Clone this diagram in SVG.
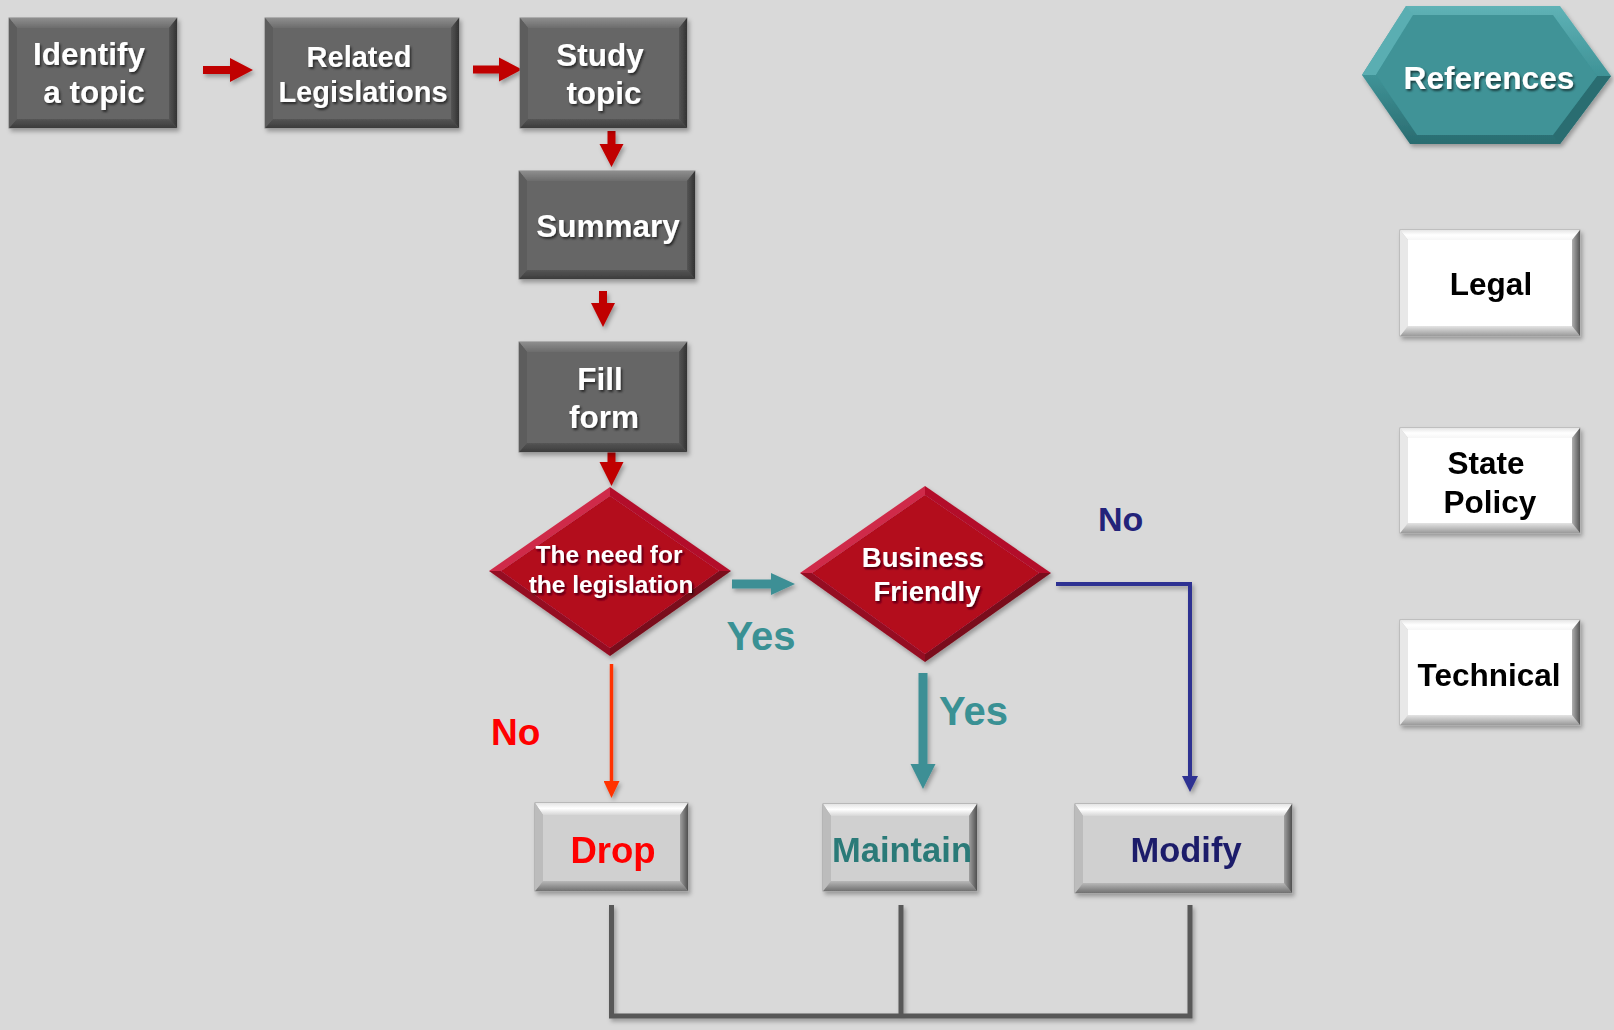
<svg xmlns="http://www.w3.org/2000/svg" width="1614" height="1030" viewBox="0 0 1614 1030">
<defs>
<style>
text{font-family:"Liberation Sans",Arial,sans-serif;font-weight:bold}
.wt{fill:#fff;text-anchor:middle;filter:url(#tsh)}
.bt{fill:#000;text-anchor:middle}
.dk-base{fill:#5a5a5a;stroke:#858585;stroke-width:1}
.dk-top{fill:url(#dkTop)}
.dk-left{fill:#5d5d5d}
.dk-right{fill:url(#dkRight)}
.dk-bot{fill:url(#dkBot)}
.dk-face{fill:#666666}
.lt-base{fill:#b0b0b0;stroke:#9a9a9a;stroke-width:1}
.lt-top{fill:url(#ltTop)}
.lt-left{fill:#bcbcbc}
.lt-right{fill:url(#ltRight)}
.lt-bot{fill:url(#ltBot)}
.lt-face{fill:#d0d0d0}
.wh-base{fill:#d0d0d0;stroke:#a8a8a8;stroke-width:1}
.wh-top{fill:url(#whTop)}
.wh-left{fill:#e8e8e8}
.wh-right{fill:url(#whRight)}
.wh-bot{fill:url(#whBot)}
.wh-face{fill:#ffffff}
.dm-ul{fill:#cf2a48}
.dm-ur{fill:#b3102b}
.dm-lr{fill:#7a0a1a}
.dm-ll{fill:#950b22}
.dm-face{fill:#b3071f}
.blk-red{fill:#c00000}
.blk-teal{fill:#3e8f95}
.lbl{font-size:40px}
</style>
<linearGradient id="dkTop" x1="0" y1="0" x2="0" y2="1"><stop offset="0" stop-color="#8e8e8e"/><stop offset="1" stop-color="#6c6c6c"/></linearGradient>
<linearGradient id="dkRight" x1="0" y1="0" x2="1" y2="0"><stop offset="0" stop-color="#555"/><stop offset="1" stop-color="#333"/></linearGradient>
<linearGradient id="dkBot" x1="0" y1="0" x2="0" y2="1"><stop offset="0" stop-color="#555"/><stop offset="1" stop-color="#3c3c3c"/></linearGradient>
<linearGradient id="ltTop" x1="0" y1="0" x2="0" y2="1"><stop offset="0" stop-color="#e4e4e4"/><stop offset="0.45" stop-color="#ffffff"/><stop offset="1" stop-color="#d6d6d6"/></linearGradient>
<linearGradient id="ltRight" x1="0" y1="0" x2="1" y2="0"><stop offset="0" stop-color="#a0a0a0"/><stop offset="1" stop-color="#505050"/></linearGradient>
<linearGradient id="ltBot" x1="0" y1="0" x2="0" y2="1"><stop offset="0" stop-color="#b8b8b8"/><stop offset="1" stop-color="#707070"/></linearGradient>
<linearGradient id="whTop" x1="0" y1="0" x2="0" y2="1"><stop offset="0" stop-color="#e6e6e6"/><stop offset="0.5" stop-color="#ffffff"/><stop offset="1" stop-color="#f6f6f6"/></linearGradient>
<linearGradient id="whRight" x1="0" y1="0" x2="1" y2="0"><stop offset="0" stop-color="#b0b0b0"/><stop offset="1" stop-color="#555"/></linearGradient>
<linearGradient id="whBot" x1="0" y1="0" x2="0" y2="1"><stop offset="0" stop-color="#e4e4e4"/><stop offset="1" stop-color="#9a9a9a"/></linearGradient>
<linearGradient id="hexOut" x1="0" y1="0" x2="0" y2="1"><stop offset="0" stop-color="#5fb2b6"/><stop offset="0.5" stop-color="#3f9397"/><stop offset="1" stop-color="#2a6c70"/></linearGradient>
<filter id="sh" x="-10%" y="-10%" width="125%" height="130%"><feDropShadow dx="2" dy="3" stdDeviation="2.2" flood-color="#000" flood-opacity="0.3"/></filter>
<filter id="tsh" x="-10%" y="-20%" width="125%" height="150%"><feDropShadow dx="1.5" dy="2" stdDeviation="1" flood-color="#000" flood-opacity="0.6"/></filter>
<marker id="mRed" viewBox="0 0 17 16" refX="0" refY="8" markerUnits="userSpaceOnUse" markerWidth="17" markerHeight="16" orient="auto"><path d="M0,0 L17,8 L0,16 Z" fill="#ff3300"/></marker>
<marker id="mBlue" viewBox="0 0 16 16" refX="0" refY="8" markerUnits="userSpaceOnUse" markerWidth="16" markerHeight="16" orient="auto"><path d="M0,0 L16,8 L0,16 Z" fill="#2e3192"/></marker>
</defs>

<rect x="0" y="0" width="1614" height="1030" fill="#d9d9d9"/>

<g id="connectors">
  <g filter="url(#sh)">
    <polygon class="blk-red" points="203,66 230,66 230,58 253,70 230,82 230,74 203,74"/>
    <polygon class="blk-red" points="473,65.5 499,65.5 499,57.5 522,69.5 499,81.5 499,73.5 473,73.5"/>
    <polygon class="blk-red" points="607.5,131 615.5,131 615.5,144 623.5,144 611.5,167 599.5,144 607.5,144"/>
    <polygon class="blk-red" points="599,291 607,291 607,303 615,303 603,327 591,303 599,303"/>
    <polygon class="blk-red" points="607.5,450 615.5,450 615.5,462 623.5,462 611.5,486 599.5,462 607.5,462"/>
    <polygon class="blk-teal" points="732,579.5 771,579.5 771,573 795,584 771,595 771,588.5 732,588.5"/>
    <polygon class="blk-teal" points="918.5,673 927.5,673 927.5,764 935.5,764 923,789 910.5,764 918.5,764"/>
    <line x1="611.5" y1="664" x2="611.5" y2="781" stroke="#ff3300" stroke-width="3.5" marker-end="url(#mRed)"/>
    <polyline points="1056,584 1190,584 1190,776" fill="none" stroke="#2e3192" stroke-width="4" marker-end="url(#mBlue)"/>
    <polyline points="611.5,905 611.5,1016 1190,1016 1190,905" fill="none" stroke="#595959" stroke-width="5"/>
    <line x1="901" y1="905" x2="901" y2="1016" stroke="#595959" stroke-width="5"/>
  </g>
  <text x="761" y="650" class="lbl" fill="#3a9194" text-anchor="middle">Yes</text>
  <text x="939" y="725" class="lbl" fill="#3a9194">Yes</text>
  <text x="491" y="745" font-size="37" fill="#ff0000">No</text>
  <text x="1098" y="531" font-size="34" fill="#23237a">No</text>
</g>

<g id="identify" filter="url(#sh)">
  <rect class="dk-base" x="9" y="18" width="168" height="110"/>
  <polygon class="dk-top" points="9,18 177,18 169,28 17,28"/>
  <polygon class="dk-bot" points="9,128 177,128 169,119 17,119"/>
  <polygon class="dk-left" points="9,18 17,28 17,119 9,128"/>
  <polygon class="dk-right" points="177,18 169,28 169,119 177,128"/>
  <rect class="dk-face" x="17" y="28" width="152" height="91"/>
  <text class="wt" font-size="31.5" x="89" y="65">Identify</text>
  <text class="wt" font-size="31.5" x="94" y="103">a topic</text>
</g>

<g id="related" filter="url(#sh)">
  <rect class="dk-base" x="265" y="18" width="194" height="110"/>
  <polygon class="dk-top" points="265,18 459,18 451,28 273,28"/>
  <polygon class="dk-bot" points="265,128 459,128 451,119 273,119"/>
  <polygon class="dk-left" points="265,18 273,28 273,119 265,128"/>
  <polygon class="dk-right" points="459,18 451,28 451,119 459,128"/>
  <rect class="dk-face" x="273" y="28" width="178" height="91"/>
  <text class="wt" font-size="29" x="359" y="67">Related</text>
  <text class="wt" font-size="29" x="363" y="102">Legislations</text>
</g>

<g id="study" filter="url(#sh)">
  <rect class="dk-base" x="520" y="18" width="167" height="110"/>
  <polygon class="dk-top" points="520,18 687,18 679,28 528,28"/>
  <polygon class="dk-bot" points="520,128 687,128 679,119 528,119"/>
  <polygon class="dk-left" points="520,18 528,28 528,119 520,128"/>
  <polygon class="dk-right" points="687,18 679,28 679,119 687,128"/>
  <rect class="dk-face" x="528" y="28" width="151" height="91"/>
  <text class="wt" font-size="31.5" x="600" y="66">Study</text>
  <text class="wt" font-size="31.5" x="604" y="104">topic</text>
</g>

<g id="summary" filter="url(#sh)">
  <rect class="dk-base" x="519" y="171" width="176" height="108"/>
  <polygon class="dk-top" points="519,171 695,171 687,181 527,181"/>
  <polygon class="dk-bot" points="519,279 695,279 687,270 527,270"/>
  <polygon class="dk-left" points="519,171 527,181 527,270 519,279"/>
  <polygon class="dk-right" points="695,171 687,181 687,270 695,279"/>
  <rect class="dk-face" x="527" y="181" width="160" height="89"/>
  <text class="wt" font-size="31.5" x="608" y="237">Summary</text>
</g>

<g id="fillform" filter="url(#sh)">
  <rect class="dk-base" x="519" y="342" width="168" height="110"/>
  <polygon class="dk-top" points="519,342 687,342 679,352 527,352"/>
  <polygon class="dk-bot" points="519,452 687,452 679,443 527,443"/>
  <polygon class="dk-left" points="519,342 527,352 527,443 519,452"/>
  <polygon class="dk-right" points="687,342 679,352 679,443 687,452"/>
  <rect class="dk-face" x="527" y="352" width="152" height="91"/>
  <text class="wt" font-size="31.5" x="600" y="390">Fill</text>
  <text class="wt" font-size="31.5" x="604" y="428">form</text>
</g>

<g id="need" filter="url(#sh)">
  <polygon class="dm-ul" points="489,571 610,487 610,496 501,571"/>
  <polygon class="dm-ur" points="610,487 731,571 719,571 610,496"/>
  <polygon class="dm-lr" points="731,571 610,656 610,648 719,571"/>
  <polygon class="dm-ll" points="610,656 489,571 501,571 610,648"/>
  <polygon class="dm-face" points="610,496 719,571 610,648 501,571"/>
  <text class="wt" font-size="24.5" x="609" y="563">The need for</text>
  <text class="wt" font-size="24.5" x="611" y="593">the legislation</text>
</g>

<g id="business" filter="url(#sh)">
  <polygon class="dm-ul" points="800,573 925,486 925,495 812,573"/>
  <polygon class="dm-ur" points="925,486 1051,573 1039,573 925,495"/>
  <polygon class="dm-lr" points="1051,573 925,662 925,654 1039,573"/>
  <polygon class="dm-ll" points="925,662 800,573 812,573 925,654"/>
  <polygon class="dm-face" points="925,495 1039,573 925,654 812,573"/>
  <text class="wt" font-size="27.5" x="923" y="567">Business</text>
  <text class="wt" font-size="27.5" x="927" y="601">Friendly</text>
</g>

<g id="drop" filter="url(#sh)">
  <rect class="lt-base" x="535" y="803" width="153" height="88"/>
  <polygon class="lt-top" points="535,803 688,803 680,815 543,815"/>
  <polygon class="lt-bot" points="535,891 688,891 680,881 543,881"/>
  <polygon class="lt-left" points="535,803 543,815 543,881 535,891"/>
  <polygon class="lt-right" points="688,803 680,815 680,881 688,891"/>
  <rect class="lt-face" x="543" y="815" width="137" height="66"/>
  <text font-size="36.5" x="613" y="863" fill="#ff0000" text-anchor="middle">Drop</text>
</g>

<g id="maintain" filter="url(#sh)">
  <rect class="lt-base" x="823" y="804" width="154" height="87"/>
  <polygon class="lt-top" points="823,804 977,804 969,816 831,816"/>
  <polygon class="lt-bot" points="823,891 977,891 969,881 831,881"/>
  <polygon class="lt-left" points="823,804 831,816 831,881 823,891"/>
  <polygon class="lt-right" points="977,804 969,816 969,881 977,891"/>
  <rect class="lt-face" x="831" y="816" width="138" height="65"/>
  <text font-size="34.5" x="902" y="862" fill="#2a7a78" text-anchor="middle">Maintain</text>
</g>

<g id="modify" filter="url(#sh)">
  <rect class="lt-base" x="1075" y="804" width="217" height="89"/>
  <polygon class="lt-top" points="1075,804 1292,804 1284,816 1083,816"/>
  <polygon class="lt-bot" points="1075,893 1292,893 1284,883 1083,883"/>
  <polygon class="lt-left" points="1075,804 1083,816 1083,883 1075,893"/>
  <polygon class="lt-right" points="1292,804 1284,816 1284,883 1292,893"/>
  <rect class="lt-face" x="1083" y="816" width="201" height="67"/>
  <text font-size="34.5" x="1186" y="862" fill="#1f1f6b" text-anchor="middle">Modify</text>
</g>

<g id="references" filter="url(#sh)">
  <polygon fill="url(#hexOut)" points="1362,75 1406,6 1560,6 1611,76 1560,144 1410,144"/>
  <polygon fill="#5aaeb2" points="1362,75 1406,6 1413,15 1376,75"/>
  <polygon fill="#2a6d71" points="1611,76 1560,144 1553,135 1597,76"/>
  <polygon fill="#3f9397" points="1376,75 1413,15 1553,15 1597,76 1553,135 1417,135"/>
  <text class="wt" font-size="31.7" x="1489" y="89">References</text>
</g>

<g id="legal" filter="url(#sh)">
  <rect class="wh-base" x="1400" y="230" width="180" height="106"/>
  <polygon class="wh-top" points="1400,230 1580,230 1572,240 1408,240"/>
  <polygon class="wh-bot" points="1400,336 1580,336 1572,326 1408,326"/>
  <polygon class="wh-left" points="1400,230 1408,240 1408,326 1400,336"/>
  <polygon class="wh-right" points="1580,230 1572,240 1572,326 1580,336"/>
  <rect class="wh-face" x="1408" y="240" width="164" height="86"/>
  <text class="bt" font-size="31.5" x="1491" y="295">Legal</text>
</g>

<g id="statepolicy" filter="url(#sh)">
  <rect class="wh-base" x="1400" y="428" width="180" height="105"/>
  <polygon class="wh-top" points="1400,428 1580,428 1572,438 1408,438"/>
  <polygon class="wh-bot" points="1400,533 1580,533 1572,523 1408,523"/>
  <polygon class="wh-left" points="1400,428 1408,438 1408,523 1400,533"/>
  <polygon class="wh-right" points="1580,428 1572,438 1572,523 1580,533"/>
  <rect class="wh-face" x="1408" y="438" width="164" height="85"/>
  <text class="bt" font-size="31.5" x="1486" y="474">State</text>
  <text class="bt" font-size="31.5" x="1490" y="513">Policy</text>
</g>

<g id="technical" filter="url(#sh)">
  <rect class="wh-base" x="1400" y="620" width="180" height="105"/>
  <polygon class="wh-top" points="1400,620 1580,620 1572,630 1408,630"/>
  <polygon class="wh-bot" points="1400,725 1580,725 1572,715 1408,715"/>
  <polygon class="wh-left" points="1400,620 1408,630 1408,715 1400,725"/>
  <polygon class="wh-right" points="1580,620 1572,630 1572,715 1580,725"/>
  <rect class="wh-face" x="1408" y="630" width="164" height="85"/>
  <text class="bt" font-size="31.5" x="1489" y="686">Technical</text>
</g>
</svg>
